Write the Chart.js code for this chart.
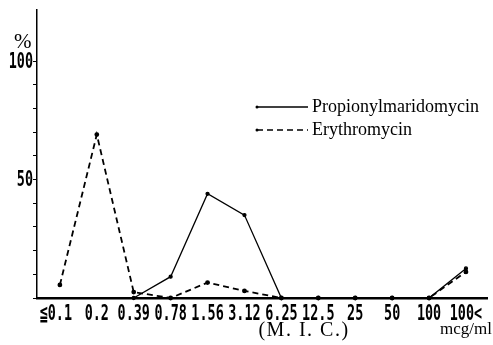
<!DOCTYPE html>
<html>
<head>
<meta charset="utf-8">
<script src="https://cdn.jsdelivr.net/npm/chart.js@4"></script>
<style>
  html, body { margin: 0; padding: 0; background: #fff; }
  #wrap { width: 493px; height: 345px; }
</style>
</head>
<body>
<div id="wrap"><canvas id="chart" width="493" height="345"></canvas></div>
<script>
// MIC categories (mcg/ml)
const micLabels = ['≦0.1', '0.2', '0.39', '0.78', '1.56', '3.12', '6.25', '12.5', '25', '50', '100', '100<'];
// % of strains
const propionylValues = [null, null, 0, 9, 44, 35, 0, 0, 0, 0, 0, 12.5];
const erythroValues = [5.5, 69, 2.5, 0, 6.5, 3, 0, 0, 0, 0, 0, 11];
const yLabelValues = [50, 100];

const serif = '"Liberation Serif", "DejaVu Serif", serif';
const tickFontStr = 'bold 21px "DejaVu Sans Mono", monospace';
const squeeze = 0.64; // no condensed face installed, so narrow the glyphs

function toPoints(vals) {
  return vals.map((v, i) => ({ x: i, y: v }));
}

function narrowText(ctx, text, x, y, align) {
  ctx.save();
  ctx.translate(x, y);
  ctx.scale(squeeze, 1);
  ctx.textAlign = align;
  ctx.fillText(text, 0, 0);
  ctx.restore();
}

// tick labels, extra texts and the legend drawn on the canvas
const annotations = {
  id: 'annotations',
  afterDraw(chart) {
    const ctx = chart.ctx;
    const xs = chart.scales.x, ys = chart.scales.y;
    ctx.save();
    ctx.fillStyle = '#000';
    ctx.strokeStyle = '#000';
    ctx.textBaseline = 'middle';

    // x tick labels
    ctx.font = tickFontStr;
    micLabels.forEach((lab, i) => {
      const px = xs.getPixelForValue(i);
      if (lab.startsWith('≦')) {
        // keep the number centred under its point
        const num = lab.slice(1);
        const w = ctx.measureText(num).width * squeeze;
        narrowText(ctx, lab, px + w / 2, 315, 'right');
      } else {
        narrowText(ctx, lab, px, 315, 'center');
      }
    });
    // y tick labels
    yLabelValues.forEach(v => {
      narrowText(ctx, String(v), 33, ys.getPixelForValue(v) + 1, 'right');
    });

    ctx.font = '21px ' + serif;
    ctx.textAlign = 'left';
    ctx.fillText('%', 14, 42);

    ctx.textAlign = 'center';
    ctx.font = '20px ' + serif;
    ctx.letterSpacing = '1.5px';
    ctx.fillText('(M. I. C.)', 304, 331);
    ctx.letterSpacing = '0px';
    ctx.font = '17px ' + serif;
    ctx.fillText('mcg/ml', 466, 330);

    // legend
    const rows = [[257, 107], [257, 130]];
    chart.data.datasets.forEach((ds, i) => {
      const [lx, ly] = rows[i];
      ctx.lineWidth = 1.3;
      ctx.setLineDash(ds.borderDash || []);
      ctx.beginPath();
      ctx.moveTo(lx, ly);
      ctx.lineTo(lx + 51, ly);
      ctx.stroke();
      ctx.setLineDash([]);
      ctx.beginPath();
      ctx.arc(lx, ly, 1.5, 0, Math.PI * 2);
      ctx.fill();
      ctx.font = '18px ' + serif;
      ctx.textAlign = 'left';
      ctx.fillText(ds.label, lx + 55, ly);
    });
    ctx.restore();
  }
};

new Chart(document.getElementById('chart'), {
  type: 'line',
  data: {
    datasets: [
      {
        label: 'Propionylmaridomycin',
        data: toPoints(propionylValues),
        borderColor: '#000',
        backgroundColor: '#000',
        borderWidth: 1.3,
        pointRadius: 1.5,
        clip: false
      },
      {
        label: 'Erythromycin',
        data: toPoints(erythroValues),
        borderColor: '#000',
        backgroundColor: '#000',
        borderWidth: 1.8,
        borderDash: [6, 4],
        pointRadius: 1.5,
        clip: false
      }
    ]
  },
  options: {
    responsive: false,
    animation: false,
    layout: { padding: { top: 10, right: 6, left: 0, bottom: 0 } },
    plugins: { legend: { display: false }, tooltip: { enabled: false } },
    scales: {
      x: {
        type: 'linear',
        min: -0.62,
        max: 11.57,
        afterBuildTicks: s => { s.ticks = micLabels.map((_, i) => ({ value: i })); },
        afterFit: s => { s.height = 47; },
        border: { color: '#000', width: 2.5 },
        grid: { display: false },
        ticks: { display: false }
      },
      y: {
        min: 0,
        max: 121.5,
        afterBuildTicks: s => { s.ticks = s.ticks.filter(t => t.value <= 100); },
        afterFit: s => { s.width = 37; },
        border: { color: '#000', width: 1.5 },
        grid: { drawOnChartArea: false, drawTicks: true, tickLength: 4, color: '#000' },
        ticks: { stepSize: 10, callback: () => '' }
      }
    }
  },
  plugins: [annotations]
});
</script>
</body>
</html>
